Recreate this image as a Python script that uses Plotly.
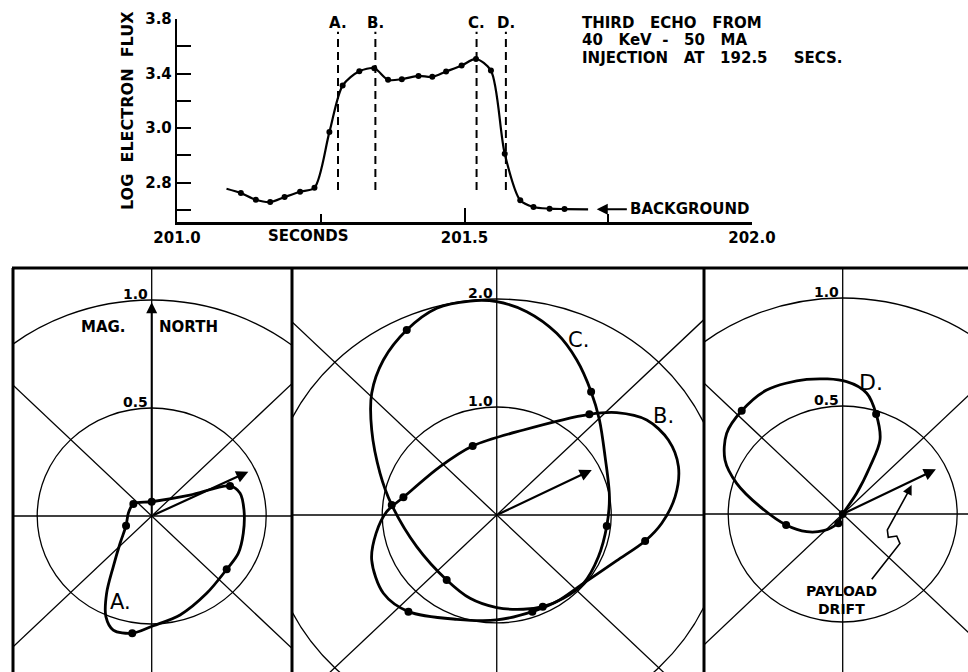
import plotly.graph_objects as go

W, H = 968, 672
FONT = "DejaVu Sans"
INK = "black"

# ---------------- top chart data ----------------
SEC_TICKS = [201.0, 201.5, 202.0]
SEC_TICK_TEXT = ["201.0", "201.5", "202.0"]
SEC_MINOR = [201.25, 201.75]
FLUX_TICKS = [3.8, 3.6, 3.4, 3.2, 3.0, 2.8, 2.6, 2.4]
FLUX_TICK_TEXT = ["3.8", "", "3.4", "", "3.0", "", "2.8", ""]

DOT_T = [201.111, 201.137, 201.162, 201.187, 201.214, 201.239, 201.265, 201.288,
         201.317, 201.343, 201.367, 201.391, 201.420, 201.444, 201.468, 201.495,
         201.520, 201.546, 201.570, 201.597, 201.620, 201.648, 201.674]
DOT_V = [2.524, 2.475, 2.458, 2.495, 2.534, 2.563, 2.971, 3.312,
         3.417, 3.439, 3.354, 3.359, 3.383, 3.376, 3.415, 3.459,
         3.507, 3.422, 2.812, 2.471, 2.422, 2.410, 2.407]
CURVE_START_T, CURVE_START_V = 201.086, 2.556
CURVE_END_T, CURVE_END_V = 201.715, 2.405

EVENT_NAMES = ["A.", "B.", "C.", "D."]
EVENT_T = [201.280, 201.345, 201.521, 201.572]
EVENT_LOW, EVENT_HIGH = 2.546, 3.707
EVENT_LABEL_V = 3.773

BACKGROUND_V = 2.405
BACKGROUND_TIP_T = 201.730
BACKGROUND_TAIL_T = 201.785

NOTE_LINES = ["THIRD&nbsp;&nbsp; ECHO&nbsp;&nbsp; FROM",
              "40&nbsp;&nbsp; KeV&nbsp; -&nbsp;&nbsp; 50&nbsp;&nbsp; MA",
              "INJECTION&nbsp;&nbsp; AT&nbsp;&nbsp; 192.5&nbsp;&nbsp;&nbsp;&nbsp; SECS."]

# ---------------- polar panels data (east, north components) ----------------
RINGS = [[0.5, 1.0], [1.0, 2.0], [0.5, 1.0]]
RING_TEXT = [["0.5", "1.0"], ["1.0", "2.0"], ["0.5", "1.0"]]
DRIFT_E = [0.422, 0.830, 0.407]
DRIFT_N = [0.205, 0.417, 0.207]

LOOP_A_E = [0.342, 0.386, 0.403, 0.400, 0.378, 0.3275, 0.240, 0.124, 0.007, -0.085,
            -0.168, -0.200, -0.197, -0.168, -0.138, -0.112, -0.102, -0.080, 0.0, 0.167, 0.342]
LOOP_A_N = [0.139, 0.105, 0.028, -0.080, -0.173, -0.247, -0.358, -0.458, -0.508, -0.543,
            -0.528, -0.466, -0.358, -0.235, -0.126, -0.045, 0.013, 0.056, 0.066, 0.097, 0.139]
DOTS_A_E = [0.342, 0.3275, -0.085, -0.112, -0.080, 0.0]
DOTS_A_N = [0.139, -0.247, -0.543, -0.045, 0.056, 0.066]

LOOP_B_E = [-0.815, -0.495, -0.210, 0.233, 0.809, 1.048, 1.310, 1.499, 1.587, 1.558,
            1.441, 1.296, 1.048, 0.757, 0.524, 0.311, 0.0, -0.349, -0.771, -0.990,
            -1.092, -1.054, -0.961, -0.815]
LOOP_B_N = [0.164, 0.448, 0.639, 0.787, 0.932, 0.948, 0.880, 0.694, 0.448, 0.170,
            -0.077, -0.241, -0.423, -0.633, -0.802, -0.895, -0.972, -0.966, -0.895, -0.725,
            -0.417, -0.170, 0.031, 0.164]
DOTS_B_E = [-0.815, -0.210, 0.809, 1.296, 0.311, -0.771]
DOTS_B_N = [0.164, 0.639, 0.932, -0.241, -0.895, -0.895]

LOOP_C_E = [-0.786, -0.524, -0.233, 0.0, 0.262, 0.524, 0.699, 0.824, 0.897, 0.946,
            0.984, 0.961, 0.888, 0.757, 0.582, 0.402, 0.233, 0.0, -0.233, -0.437,
            -0.699, -0.917, -1.019, -1.092, -1.092, -0.990, -0.786]
LOOP_C_N = [1.713, 1.914, 1.981, 1.975, 1.883, 1.682, 1.435, 1.142, 0.880, 0.540,
            0.170, -0.102, -0.386, -0.633, -0.772, -0.849, -0.873, -0.858, -0.772, -0.602,
            -0.293, 0.093, 0.386, 0.787, 1.127, 1.435, 1.713]
DOTS_C_E = [-0.786, 0.824, 0.961, 0.402, -0.437, -0.917]
DOTS_C_N = [1.713, 1.142, -0.102, -0.849, -0.602, 0.093]

LOOP_D_E = [0.0, 0.061, 0.119, 0.163, 0.146, 0.105, 0.017, -0.157, -0.332, -0.441,
            -0.507, -0.514, -0.463, -0.361, -0.247, -0.157, -0.084, -0.026, 0.0]
LOOP_D_N = [0.0, 0.096, 0.219, 0.343, 0.463, 0.559, 0.613, 0.623, 0.574, 0.478,
            0.373, 0.250, 0.142, 0.034, -0.051, -0.082, -0.077, -0.046, 0.0]
DOTS_D_E = [0.146, -0.441, -0.247, -0.019, 0.0]
DOTS_D_N = [0.463, 0.478, -0.051, -0.043, 0.0]

POINTER_E = [0.127, 0.250, 0.236, 0.199, 0.195, 0.285]
POINTER_N = [-0.302, -0.136, -0.102, -0.108, -0.074, 0.100]
POINTER_TIP = (0.301, 0.134)

# ---------------- figure ----------------
fig = go.Figure()

def line_trace(x, y, xa, ya, width=2.0, dash="solid", shape="linear", smoothing=1.0):
    fig.add_trace(go.Scatter(x=x, y=y, mode="lines", xaxis=xa, yaxis=ya, hoverinfo="skip",
                             line=dict(color=INK, width=width, dash=dash, shape=shape,
                                       smoothing=smoothing)))

def dot_trace(x, y, xa, ya, size=8):
    fig.add_trace(go.Scatter(x=x, y=y, mode="markers", xaxis=xa, yaxis=ya, hoverinfo="skip",
                             marker=dict(color=INK, size=size, line=dict(width=0))))

def font(size, bold=True):
    d = dict(family=FONT, size=size, color=INK)
    if bold:
        d["weight"] = "bold"
    return d

# top chart curve
line_trace([CURVE_START_T] + DOT_T + [CURVE_END_T], [CURVE_START_V] + DOT_V + [CURVE_END_V],
           "x", "y", width=2.2, shape="spline", smoothing=0.8)
dot_trace(DOT_T, DOT_V, "x", "y", size=6)
for t in EVENT_T:
    line_trace([t, t], [EVENT_LOW, EVENT_HIGH], "x", "y", width=2, dash="8px,5px")

annotations = []
shapes = []

for name, t in zip(EVENT_NAMES, EVENT_T):
    annotations.append(dict(x=t, y=EVENT_LABEL_V, xref="x", yref="y", text=name, showarrow=False,
                            font=font(15), xanchor="center", yanchor="middle"))

annotations.append(dict(x=BACKGROUND_TIP_T, y=BACKGROUND_V, ax=BACKGROUND_TAIL_T, ay=BACKGROUND_V,
                        xref="x", yref="y", axref="x", ayref="y", text="", showarrow=True,
                        arrowhead=2, arrowsize=1.1, arrowwidth=2, arrowcolor=INK))
annotations.append(dict(x=BACKGROUND_TAIL_T, y=BACKGROUND_V, xref="x", yref="y", text="BACKGROUND",
                        showarrow=False, xanchor="left", yanchor="middle", xshift=0,
                        font=font(15)))
annotations.append(dict(x=201.228, y=1 - 236 / H, xref="x", yref="paper", text="SECONDS",
                        showarrow=False, xanchor="center", yanchor="middle", font=font(15)))
annotations.append(dict(x=128 / W, y=1 - 111 / H, xref="paper", yref="paper",
                        text="LOG&nbsp; ELECTRON&nbsp; FLUX", xanchor="center", yanchor="middle",
                        textangle=-90, showarrow=False, font=font(16)))
for i, line in enumerate(NOTE_LINES):
    annotations.append(dict(x=580 / W, y=1 - (22.5 + 17.6 * i) / H, xref="paper", yref="paper", text=line,
                            showarrow=False, xanchor="left", yanchor="middle", font=font(15)))

# panels
PANEL_AXES = [("x2", "y2"), ("x3", "y3"), ("x4", "y4")]
LOOPS = [
    [(LOOP_A_E, LOOP_A_N, DOTS_A_E, DOTS_A_N)],
    [(LOOP_B_E, LOOP_B_N, DOTS_B_E, DOTS_B_N), (LOOP_C_E, LOOP_C_N, DOTS_C_E, DOTS_C_N)],
    [(LOOP_D_E, LOOP_D_N, DOTS_D_E, DOTS_D_N)],
]
for p, (xa, ya) in enumerate(PANEL_AXES):
    big = 10
    for (x0, y0, x1, y1) in [(-big, 0, big, 0), (0, -big, 0, big), (-big, -big, big, big), (-big, big, big, -big)]:
        shapes.append(dict(type="line", xref=xa, yref=ya, x0=x0, y0=y0, x1=x1, y1=y1,
                           line=dict(color=INK, width=1.3), layer="below"))
    for r, txt in zip(RINGS[p], RING_TEXT[p]):
        shapes.append(dict(type="circle", xref=xa, yref=ya, x0=-r, y0=-r, x1=r, y1=r,
                           line=dict(color=INK, width=1.3), layer="below"))
        annotations.append(dict(x=0, y=r, xref=xa, yref=ya, text=txt, showarrow=False,
                                xanchor="right", yanchor="bottom", xshift=-2, yshift=-4,
                                font=font(14)))
    for (le, ln, de, dn) in LOOPS[p]:
        line_trace(le, ln, xa, ya, width=2.8, shape="spline", smoothing=0.9)
        dot_trace(de, dn, xa, ya, size=8)
    annotations.append(dict(x=DRIFT_E[p], y=DRIFT_N[p], ax=0, ay=0, xref=xa, yref=ya, axref=xa, ayref=ya,
                            text="", showarrow=True, arrowhead=2, arrowsize=1.1, arrowwidth=2.2,
                            arrowcolor=INK))

# panel 1 extras
annotations.append(dict(x=0, y=0.99, ax=0, ay=0, xref="x2", yref="y2", axref="x2", ayref="y2",
                        text="", showarrow=True, arrowhead=2, arrowsize=1.1, arrowwidth=2, arrowcolor=INK))
annotations.append(dict(x=-0.103, y=0.873, xref="x2", yref="y2", text="MAG.", showarrow=False,
                        xanchor="right", yanchor="middle", font=font(15)))
annotations.append(dict(x=0.022, y=0.873, xref="x2", yref="y2", text="NORTH", showarrow=False,
                        xanchor="left", yanchor="middle", font=font(15)))
annotations.append(dict(x=-0.135, y=-0.397, xref="x2", yref="y2", text="A.", showarrow=False,
                        xanchor="center", yanchor="middle", font=font(21, bold=False)))
# panel 2 extras
annotations.append(dict(x=0.713, y=1.620, xref="x3", yref="y3", text="C.", showarrow=False,
                        xanchor="center", yanchor="middle", font=font(21, bold=False)))
annotations.append(dict(x=1.456, y=0.917, xref="x3", yref="y3", text="B.", showarrow=False,
                        xanchor="center", yanchor="middle", font=font(21, bold=False)))
# panel 3 extras
annotations.append(dict(x=0.124, y=0.608, xref="x4", yref="y4", text="D.", showarrow=False,
                        xanchor="center", yanchor="middle", font=font(22, bold=False)))
annotations.append(dict(x=-0.004, y=-0.356, xref="x4", yref="y4", text="PAYLOAD", showarrow=False,
                        xanchor="center", yanchor="middle", font=font(14)))
annotations.append(dict(x=-0.004, y=-0.441, xref="x4", yref="y4", text="DRIFT", showarrow=False,
                        xanchor="center", yanchor="middle", font=font(14)))
line_trace(POINTER_E, POINTER_N, "x4", "y4", width=1.6)
annotations.append(dict(x=POINTER_TIP[0], y=POINTER_TIP[1], ax=POINTER_E[-1], ay=POINTER_N[-1],
                        xref="x4", yref="y4", axref="x4", ayref="y4", text="", showarrow=True,
                        arrowhead=2, arrowsize=1.2, arrowwidth=1.6, arrowcolor=INK))

# panel borders
top_y = 1 - 268 / H
shapes.append(dict(type="line", xref="paper", yref="paper", x0=12 / W, x1=1, y0=top_y, y1=top_y,
                   line=dict(color=INK, width=3)))
for bx in [13, 292, 704]:
    shapes.append(dict(type="line", xref="paper", yref="paper", x0=bx / W, x1=bx / W, y0=0, y1=top_y,
                       line=dict(color=INK, width=3)))

hidden = dict(visible=False, showgrid=False, zeroline=False, fixedrange=True, automargin=False)
tickfont = font(15)
fig.update_layout(
    template="none",
    width=W, height=H, autosize=False,
    margin=dict(l=0, r=0, t=0, b=0, pad=0, autoexpand=False),
    paper_bgcolor="white", plot_bgcolor="rgba(0,0,0,0)", showlegend=False,
    xaxis=dict(domain=[177 / W, 752 / W], range=[200.9999, 202.0001], anchor="y", automargin=False,
               tickmode="array", tickvals=SEC_TICKS, ticktext=SEC_TICK_TEXT,
               ticks="inside", ticklen=14, tickwidth=2, tickcolor=INK,
               minor=dict(tickmode="array", tickvals=SEC_MINOR, ticks="inside", ticklen=8,
                          tickwidth=2, tickcolor=INK, showgrid=False),
               showline=True, linewidth=2.2, linecolor=INK, showgrid=False, zeroline=False,
               tickfont=tickfont),
    yaxis=dict(domain=[1 - 222.3 / H, 1 - 19 / H], range=[2.31, 3.8], anchor="x", automargin=False,
               tickmode="array", tickvals=FLUX_TICKS, ticktext=FLUX_TICK_TEXT,
               ticks="inside", ticklen=14, tickwidth=2, tickcolor=INK,
               showline=True, linewidth=2.2, linecolor=INK, showgrid=False, zeroline=False,
               tickfont=tickfont),
    xaxis2=dict(domain=[13 / W, 292 / W], range=[-0.6057, 0.6127], anchor="y2", **hidden),
    yaxis2=dict(domain=[0, top_y], range=[-0.7222, 1.1481], anchor="x2", **hidden),
    xaxis3=dict(domain=[292 / W, 704 / W], range=[-1.788, 1.810], anchor="y3", **hidden),
    yaxis3=dict(domain=[0, top_y], range=[-1.454, 2.287], anchor="x3", **hidden),
    xaxis4=dict(domain=[704 / W, 1.0], range=[-0.6057, 0.5472], anchor="y4", **hidden),
    yaxis4=dict(domain=[0, top_y], range=[-0.7315, 1.1389], anchor="x4", **hidden),
    shapes=shapes, annotations=annotations,
)

fig.write_html("out.html", config={"displayModeBar": False, "staticPlot": True},
               post_script="document.body.style.margin='0px';document.body.style.overflow='hidden';")
